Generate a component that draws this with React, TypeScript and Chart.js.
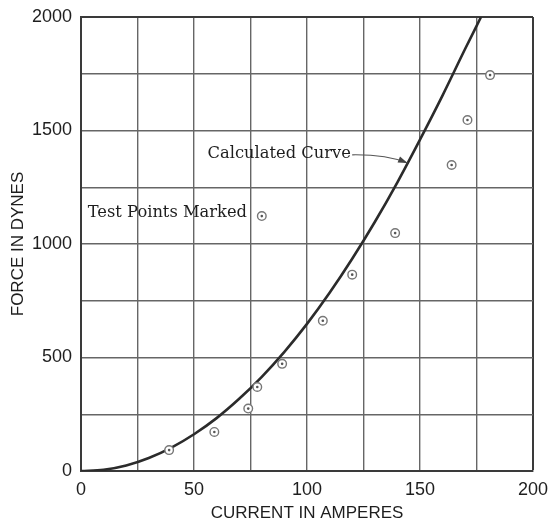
import React, { useEffect, useRef } from "react";
import { Chart, registerables } from "chart.js";

Chart.register(...registerables);

// Test points (current in amperes, force in dynes)
const testCurrent = [39, 59, 74, 78, 89, 107, 120, 139, 164, 171, 181];
const testForce = [92, 172, 275, 370, 472, 662, 865, 1048, 1348, 1546, 1744];

// Calculated curve
const curveCurrent = [0, 10, 20, 30, 40, 50, 60, 70, 80, 90, 100, 110, 120, 130, 140, 150, 160, 170, 177];
const curveForce = [0, 5, 24, 57, 103, 162, 233, 318, 415, 525, 648, 785, 935, 1097, 1272, 1460, 1655, 1860, 2000];

// Legend sample marker next to "Test Points Marked"
const markerCurrent = [80];
const markerForce = [1123];

const xTicks = [0, 50, 100, 150, 200];
const yTicks = [0, 500, 1000, 1500, 2000];

const annotations = [
  { text: "Calculated Curve", x: 56, y: 1398 },
  { text: "Test Points Marked", x: 3, y: 1137 },
];
const arrowFrom = { x: 120, y: 1393 };
const arrowCtrl = { x: 135, y: 1395 };
const arrowTo = { x: 144.5, y: 1357 };

const GRID = "#666666";
const INK = "#1e1e1e";
const POINT = "#777777";

export default function App() {
  const ref = useRef<HTMLCanvasElement | null>(null);

  useEffect(() => {
    document.body.style.margin = "0";
    const canvas = ref.current!;
    const pts = testCurrent.map((x, i) => ({ x, y: testForce[i] }));
    const curve = curveCurrent.map((x, i) => ({ x, y: curveForce[i] }));
    const marker = markerCurrent.map((x, i) => ({ x, y: markerForce[i] }));

    const annotationPlugin = {
      id: "annotations",
      afterDatasetsDraw(chart: any) {
        const { ctx, scales } = chart;
        const xs = scales.x;
        const ys = scales.y;
        ctx.save();
        ctx.fillStyle = INK;
        ctx.font = "16.3px 'DejaVu Serif'";
        ctx.textBaseline = "middle";
        ctx.textAlign = "left";
        annotations.forEach((a) => {
          ctx.fillText(a.text, xs.getPixelForValue(a.x), ys.getPixelForValue(a.y));
        });
        const x0 = xs.getPixelForValue(arrowFrom.x);
        const y0 = ys.getPixelForValue(arrowFrom.y);
        const cx = xs.getPixelForValue(arrowCtrl.x);
        const cy = ys.getPixelForValue(arrowCtrl.y);
        const x1 = xs.getPixelForValue(arrowTo.x);
        const y1 = ys.getPixelForValue(arrowTo.y);
        ctx.strokeStyle = "#555";
        ctx.lineWidth = 1.2;
        ctx.beginPath();
        ctx.moveTo(x0, y0);
        ctx.quadraticCurveTo(cx, cy, x1, y1);
        ctx.stroke();
        const ang = Math.atan2(y1 - cy, x1 - cx);
        const L = 10;
        ctx.fillStyle = "#444";
        ctx.beginPath();
        ctx.moveTo(x1, y1);
        ctx.lineTo(x1 - L * Math.cos(ang - 0.33), y1 - L * Math.sin(ang - 0.33));
        ctx.lineTo(x1 - L * Math.cos(ang + 0.33), y1 - L * Math.sin(ang + 0.33));
        ctx.closePath();
        ctx.fill();
        ctx.restore();
      },
    };

    const chart = new Chart(canvas, {
      type: "scatter",
      data: {
        datasets: [
          {
            type: "line",
            data: curve,
            borderColor: "#2b2b2b",
            borderWidth: 2.6,
            pointRadius: 0,
            cubicInterpolationMode: "monotone",
            fill: false,
            order: 2,
          } as any,
          {
            data: [...pts, ...marker],
            pointStyle: "circle",
            pointRadius: 4.3,
            borderColor: POINT,
            backgroundColor: "#ffffff",
            borderWidth: 1.4,
            order: 1,
          },
          {
            data: [...pts, ...marker],
            pointStyle: "circle",
            pointRadius: 1.3,
            borderWidth: 0,
            backgroundColor: "#555",
            order: 0,
          },
        ],
      },
      options: {
        responsive: false,
        animation: false,
        layout: { padding: { top: 17, right: 15, left: 0, bottom: 0 } },
        plugins: {
          legend: { display: false },
          tooltip: { enabled: false },
        },
        scales: {
          x: {
            type: "linear",
            min: 0,
            max: 200,
            afterFit: (s: any) => {
              s.height = 53;
              s.paddingLeft = 0;
              s.paddingRight = 0;
            },
            border: { display: true, color: "#3a3a3a", width: 2 },
            grid: {
              color: (c: any) => (c.tick && c.tick.value === 200 ? "#3a3a3a" : GRID),
              lineWidth: (c: any) => (c.tick && c.tick.value === 200 ? 2 : 1.4),
              drawTicks: false,
            },
            ticks: {
              stepSize: 25,
              padding: 8,
              color: INK,
              maxRotation: 0,
              autoSkip: false,
              font: { family: "'Liberation Sans', Arial, sans-serif", size: 18 },
              callback: (v: any) => (xTicks.includes(Number(v)) ? String(v) : ""),
            },
            title: {
              display: true,
              text: "CURRENT IN AMPERES",
              color: INK,
              font: { family: "'Liberation Sans', Arial, sans-serif", size: 17 },
              padding: { top: 2, bottom: 0 },
            },
          },
          y: {
            type: "linear",
            min: 0,
            max: 2000,
            afterFit: (s: any) => {
              s.width = 81;
              s.paddingTop = 0;
              s.paddingBottom = 0;
            },
            border: { display: true, color: "#3a3a3a", width: 2 },
            grid: {
              color: (c: any) => (c.tick && c.tick.value === 2000 ? "#3a3a3a" : GRID),
              lineWidth: (c: any) => (c.tick && c.tick.value === 2000 ? 2 : 1.4),
              drawTicks: false,
            },
            ticks: {
              stepSize: 250,
              padding: 9,
              color: INK,
              autoSkip: false,
              font: { family: "'Liberation Sans', Arial, sans-serif", size: 18 },
              callback: (v: any) => (yTicks.includes(Number(v)) ? String(v) : ""),
            },
            title: {
              display: true,
              text: "FORCE IN DYNES",
              color: INK,
              font: { family: "'Liberation Sans', Arial, sans-serif", size: 17 },
              padding: { top: 8, bottom: 0 },
            },
          },
        },
      },
      plugins: [annotationPlugin],
    });
    return () => chart.destroy();
  }, []);

  return (
    <div style={{ position: "absolute", left: 0, top: 0, width: 548, height: 524, background: "#fff" }}>
      <canvas ref={ref} width={548} height={524} style={{ display: "block" }} />
    </div>
  );
}
